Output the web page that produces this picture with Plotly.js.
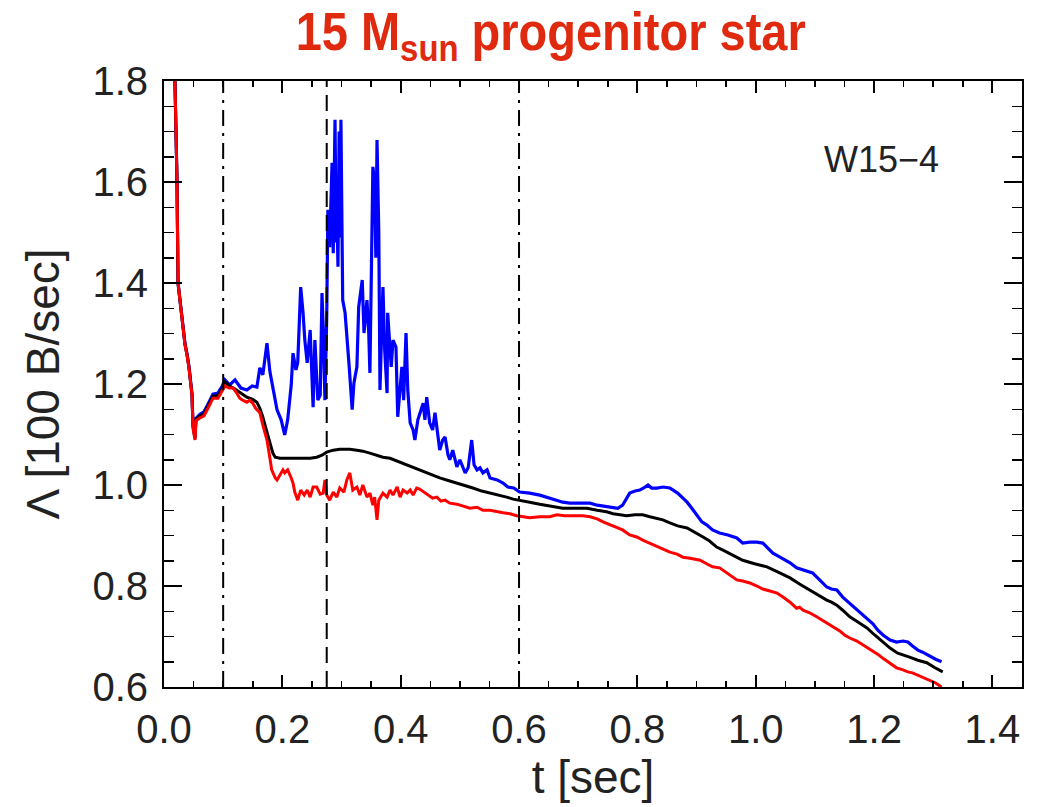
<!DOCTYPE html>
<html><head><meta charset="utf-8">
<script src="https://cdn.plot.ly/plotly-3.0.1.min.js"></script>
<style>html,body{margin:0;padding:0;background:#fff}#chart{width:1041px;height:807px}</style>
</head><body><div id="chart"></div>
<script>
// ---- data (t in sec, Λ in units of 100 B/sec) ----
const blueT = [0.015,0.0186,0.0203,0.022,0.0237,0.0287,0.0321,0.0355,0.0389,0.0422,0.0473,0.049,0.0524,0.054,0.0608,0.0676,0.0743,0.0828,0.0912,0.098,0.103,
  0.111,0.120,0.130,0.140,0.149,0.157,0.162,0.167,0.174,0.179,0.186,0.191,0.198,0.204,0.209,0.215,0.218,0.223,0.226,0.231,0.235,0.238,0.242,0.247,0.252,
  0.255,0.258,0.260,0.264,0.267,0.269,0.272,0.275,0.277,0.280,0.282,0.284,0.286,0.288,0.289,0.291,0.292,0.294,0.296,0.297,0.298,0.299,0.301,0.302,0.306,0.309,0.313,0.318,0.321,0.326,0.329,
  0.335,0.338,0.343,0.346,0.348,0.351,0.353,0.356,0.358,0.360,0.363,0.365,0.368,0.370,0.373,0.377,0.378,0.384,0.387,0.392,0.395,
  0.399,0.402,0.405,0.409,0.412,0.416,0.421,0.424,0.429,0.438,0.441,0.444,0.449,0.454,0.458,0.463,0.466,0.471,0.475,0.480,0.483,0.488,0.495,0.500,0.509,0.514,
  0.520,0.524,0.529,0.534,0.539,0.546,0.551,0.563,0.573,0.581,0.591,0.601,0.618,0.635,0.647,0.661,0.674,0.686,0.703,0.720,0.732,0.745,0.759,0.767,0.775,0.782,
  0.787,0.796,0.804,0.813,0.818,0.824,0.833,0.843,0.855,0.863,0.868,0.877,0.884,0.892,0.900,0.909,0.917,0.927,0.939,0.953,0.968,0.978,0.990,1.002,1.012,1.020,
  1.029,1.041,1.058,1.069,1.083,1.096,1.108,1.120,1.128,1.137,1.147,1.159,1.171,1.179,1.188,1.198,1.206,1.215,1.227,1.238,1.249,1.257,1.265,1.274,1.282,1.294,
  1.304,1.314];
const blueY = [2.0,1.80,1.69,1.60,1.40,1.345,1.317,1.280,1.260,1.235,1.180,1.120,1.095,1.132,1.140,1.145,1.160,1.180,1.182,1.195,1.208,
  1.198,1.208,1.192,1.188,1.196,1.194,1.232,1.218,1.281,1.224,1.178,1.149,1.129,1.099,1.129,1.198,1.261,1.228,1.242,1.392,1.341,1.287,1.242,1.307,1.154,
  1.287,1.214,1.168,1.178,1.380,1.313,1.168,1.333,1.545,1.471,1.560,1.638,1.459,1.620,1.723,1.480,1.564,1.432,1.700,1.630,1.490,1.723,1.499,1.366,1.341,1.301,1.234,1.149,1.202,1.234,1.352,
  1.406,1.301,1.366,1.301,1.222,1.432,1.630,1.598,1.450,1.683,1.499,1.188,1.301,1.392,1.267,1.182,1.341,1.234,1.287,1.273,1.135,
  1.188,1.234,1.168,1.301,1.188,1.123,1.109,1.089,1.129,1.162,1.129,1.174,1.123,1.109,1.143,1.089,1.069,1.089,1.095,1.059,1.050,1.069,1.036,1.050,1.024,1.034,
  1.089,1.040,1.030,1.034,1.024,1.030,1.014,1.010,1.004,0.996,0.994,0.986,0.984,0.980,0.976,0.970,0.966,0.964,0.964,0.964,0.960,0.958,0.956,0.954,0.960,0.974,
  0.984,0.988,0.990,0.996,1.000,0.994,0.994,0.996,0.994,0.988,0.984,0.974,0.966,0.954,0.941,0.927,0.921,0.911,0.905,0.901,0.895,0.885,0.887,0.887,0.885,0.875,
  0.865,0.857,0.846,0.836,0.830,0.826,0.812,0.798,0.794,0.792,0.778,0.766,0.754,0.745,0.737,0.725,0.713,0.703,0.693,0.689,0.691,0.689,0.681,0.673,0.669,0.661,
  0.655,0.650];

const blackT = [0.015,0.0186,0.0203,0.022,0.0237,0.0287,0.0321,0.0355,0.0389,0.0422,0.0473,0.049,0.0524,0.054,0.0608,0.0676,0.0743,0.0828,0.0912,0.098,0.103,
  0.111,0.120,0.130,0.140,0.149,0.157,0.162,0.167,0.172,0.179,0.184,0.188,0.196,0.213,0.230,0.247,0.258,0.267,0.275,0.286,0.297,0.314,0.326,0.336,0.348,0.360,
  0.370,0.382,0.399,0.411,0.424,0.438,0.453,0.466,0.483,0.495,0.509,0.522,0.537,0.551,0.568,0.579,0.590,0.601,0.618,0.635,0.652,0.674,0.694,0.715,0.732,0.748,
  0.759,0.770,0.782,0.796,0.809,0.821,0.833,0.843,0.855,0.868,0.884,0.897,0.911,0.922,0.934,0.948,0.961,0.978,0.998,1.019,1.037,1.058,1.074,1.091,1.105,1.120,
  1.128,1.137,1.147,1.159,1.172,1.188,1.201,1.215,1.227,1.240,1.252,1.260,1.274,1.289,1.303,1.316];
const blackY = [2.0,1.80,1.69,1.60,1.40,1.345,1.317,1.278,1.258,1.233,1.179,1.116,1.092,1.130,1.137,1.141,1.156,1.176,1.177,1.190,1.204,
  1.196,1.190,1.182,1.174,1.170,1.164,1.152,1.135,1.113,1.083,1.063,1.055,1.053,1.053,1.053,1.053,1.055,1.059,1.065,1.069,1.071,1.071,1.069,1.067,1.063,1.059,
  1.055,1.053,1.045,1.040,1.034,1.026,1.020,1.014,1.008,1.004,0.998,0.994,0.988,0.984,0.980,0.976,0.972,0.970,0.966,0.962,0.958,0.954,0.954,0.954,0.950,0.947,
  0.943,0.941,0.939,0.941,0.941,0.937,0.933,0.931,0.925,0.919,0.915,0.907,0.897,0.889,0.877,0.869,0.861,0.851,0.844,0.838,0.828,0.816,0.804,0.792,0.782,0.772,
  0.768,0.762,0.752,0.739,0.729,0.717,0.703,0.689,0.677,0.667,0.663,0.659,0.653,0.648,0.638,0.630];

const redT = [0.015,0.0186,0.0203,0.022,0.0237,0.0287,0.0321,0.0355,0.0389,0.0422,0.0473,0.049,0.0524,0.054,0.0608,0.0676,0.0743,0.0828,0.0912,0.098,0.103,
  0.110,0.117,0.123,0.128,0.133,0.140,0.145,0.150,0.155,0.162,0.167,0.174,0.179,0.182,0.188,0.191,0.196,0.201,0.204,0.209,0.215,0.218,0.221,0.226,0.231,0.237,
  0.242,0.247,0.252,0.258,0.264,0.269,0.272,0.275,0.280,0.286,0.292,0.297,0.304,0.309,0.314,0.319,0.326,0.331,0.336,0.343,0.348,0.353,0.356,0.360,0.363,0.370,
  0.377,0.382,0.387,0.394,0.399,0.404,0.411,0.416,0.421,0.427,0.432,0.441,0.449,0.454,0.461,0.468,0.475,0.483,0.495,0.505,0.517,0.529,0.539,0.551,0.563,0.573,
  0.585,0.596,0.607,0.618,0.635,0.652,0.664,0.677,0.694,0.708,0.720,0.732,0.742,0.754,0.765,0.775,0.787,0.799,0.809,0.821,0.833,0.843,0.855,0.867,0.877,0.889,
  0.906,0.917,0.927,0.939,0.951,0.961,0.968,0.978,0.990,1.002,1.012,1.024,1.036,1.046,1.058,1.069,1.074,1.080,1.091,1.103,1.117,1.130,1.142,1.150,1.159,1.171,
  1.188,1.198,1.206,1.215,1.227,1.238,1.249,1.257,1.265,1.277,1.286,1.294,1.304,1.314];
const redY = [2.0,1.80,1.69,1.60,1.40,1.345,1.317,1.277,1.257,1.232,1.178,1.113,1.089,1.127,1.133,1.137,1.152,1.172,1.172,1.186,1.196,
  1.192,1.192,1.182,1.172,1.168,1.164,1.168,1.162,1.152,1.143,1.119,1.089,1.053,1.030,1.014,1.010,1.020,1.030,1.024,1.030,1.014,1.004,0.986,0.970,0.990,0.980,
  0.990,0.976,0.996,0.996,0.982,0.984,1.010,0.980,0.970,0.986,0.976,0.994,0.986,1.010,1.024,0.990,0.996,0.980,1.000,0.976,0.984,0.960,0.976,0.931,0.970,0.984,
  0.976,0.990,0.980,0.996,0.976,0.990,0.984,0.990,0.980,0.994,0.992,0.984,0.978,0.974,0.976,0.968,0.970,0.964,0.962,0.958,0.954,0.956,0.950,0.950,0.947,0.945,
  0.943,0.939,0.937,0.935,0.937,0.937,0.941,0.939,0.939,0.939,0.937,0.933,0.927,0.921,0.917,0.911,0.901,0.897,0.891,0.885,0.879,0.873,0.867,0.863,0.857,0.855,
  0.851,0.844,0.838,0.836,0.826,0.818,0.812,0.810,0.806,0.800,0.794,0.790,0.786,0.778,0.768,0.756,0.758,0.752,0.747,0.739,0.729,0.719,0.711,0.703,0.697,0.691,
  0.679,0.671,0.665,0.657,0.648,0.638,0.634,0.630,0.628,0.622,0.618,0.614,0.608,0.600];

const markerTimes = [0.1, 0.275, 0.6];
const markerDash = ['16px,7px,3px,7px', '16px,8px', '16px,7px,3px,7px'];

const xTickVals = [0.0, 0.2, 0.4, 0.6, 0.8, 1.0, 1.2, 1.4];
const yTickVals = [0.6, 0.8, 1.0, 1.2, 1.4, 1.6, 1.8];

const tickFont = {family: 'Liberation Sans, Arial, sans-serif', size: 40, color: '#222'};

const traces = [
  {x: blueT, y: blueY, mode: 'lines', line: {color: '#0000ff', width: 3.2}, hoverinfo: 'skip'},
  {x: blackT, y: blackY, mode: 'lines', line: {color: '#000000', width: 3}, hoverinfo: 'skip'},
  {x: redT, y: redY, mode: 'lines', line: {color: '#ff0000', width: 3}, hoverinfo: 'skip'}
];

const shapes = markerTimes.map((t, i) => ({
  type: 'line', xref: 'x', yref: 'paper', x0: t, x1: t, y0: 0, y1: 1,
  line: {color: '#000', width: 2, dash: markerDash[i]}
}));

const layout = {
  width: 1041, height: 807,
  margin: {l: 164, r: 19, t: 81, b: 120},
  paper_bgcolor: '#fff', plot_bgcolor: '#fff',
  showlegend: false,
  title: {
    text: '<b>15 M<sub>sun</sub> progenitor star</b>',
    font: {family: 'Liberation Sans, Arial, sans-serif', size: 54, color: '#e02a10'},
    xref: 'container', yref: 'container', x: 0.529, xanchor: 'center', y: 0.985, yanchor: 'top'
  },
  xaxis: {
    range: [0, 1.45], tickvals: xTickVals, tickformat: '.1f',
    ticks: 'inside', ticklen: 12, tickwidth: 2, tickcolor: '#000',
    minor: {dtick: 0.05, tick0: 0, ticks: 'inside', ticklen: 6, tickwidth: 1.5, tickcolor: '#000', showgrid: false},
    showline: true, linewidth: 2, linecolor: '#000', mirror: 'allticks',
    showgrid: false, zeroline: false, tickfont: tickFont, ticklabelstandoff: 6,
    title: {text: 't [sec]', font: {family: 'Liberation Sans, Arial, sans-serif', size: 46, color: '#222'}, standoff: 4}
  },
  yaxis: {
    range: [0.6, 1.8], tickvals: yTickVals, tickformat: '.1f',
    ticks: 'inside', ticklen: 18, tickwidth: 2, tickcolor: '#000',
    minor: {dtick: 0.05, tick0: 0.6, ticks: 'inside', ticklen: 10, tickwidth: 1.5, tickcolor: '#000', showgrid: false},
    showline: true, linewidth: 2, linecolor: '#000', mirror: 'allticks',
    showgrid: false, zeroline: false, tickfont: tickFont, ticklabelstandoff: 6,
    title: {text: 'Λ [100 B/sec]', font: {family: 'Liberation Sans, Arial, sans-serif', size: 46, color: '#222'}, standoff: 18}
  },
  shapes: shapes,
  annotations: [{
    text: 'W15−4', xref: 'paper', yref: 'paper', x: 0.836, y: 0.871,
    xanchor: 'center', yanchor: 'middle', showarrow: false,
    font: {family: 'Liberation Sans, Arial, sans-serif', size: 36, color: '#222'}
  }]
};

Plotly.newPlot('chart', traces, layout, {staticPlot: true, displayModeBar: false}).then(() => {
  // the reference title uses a condensed bold face: squeeze it horizontally about its centre
  const g = document.querySelector('.gtitle');
  if (g) {
    const bb = g.getBBox();
    const cx = bb.x + bb.width / 2;
    g.setAttribute('transform', 'translate(' + cx + ',0) scale(0.87,1) translate(' + (-cx) + ',0)');
  }
});
</script>
</body></html>
